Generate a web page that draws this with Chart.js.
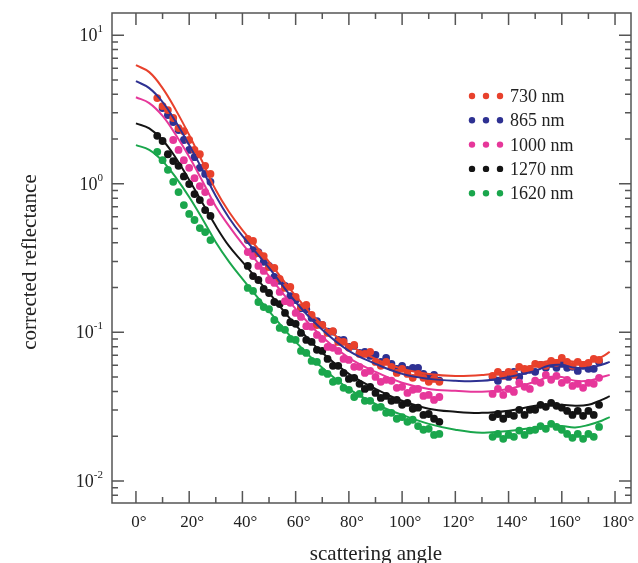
<!DOCTYPE html>
<html>
<head>
<meta charset="utf-8">
<script src="https://cdn.jsdelivr.net/npm/chart.js"></script>
<style>
  html, body { margin: 0; padding: 0; background: #fff; }
  #wrap { width: 638px; height: 563px; }
</style>
</head>
<body>
<div id="wrap"><canvas id="reflChart" width="638" height="563"></canvas></div>
<script type="text/javascript">

// series names and colours
const wavelengths = ['730 nm', '865 nm', '1000 nm', '1270 nm', '1620 nm'];
const colors = ['#e8412c', '#2e3192', '#e6379a', '#141414', '#1aa64c'];

// fitted curves (angle in degrees)
const fitAngles = [0, 5, 10, 15, 20, 25, 30, 35, 40, 50, 60, 70, 80, 90, 100, 110, 120, 130, 140, 150, 155, 160, 165, 170, 175, 178];
const fit730  = [6.28, 5.64, 4.40, 3.13, 2.13, 1.40, 0.907, 0.645, 0.488, 0.298, 0.176, 0.112, 0.0823, 0.0662, 0.0568, 0.0525, 0.0509, 0.0517, 0.0542, 0.0604, 0.0642, 0.0652, 0.0633, 0.0633, 0.0684, 0.0738];
const fit865  = [4.90, 4.40, 3.55, 2.60, 1.82, 1.24, 0.826, 0.588, 0.445, 0.271, 0.160, 0.104, 0.0750, 0.0614, 0.0525, 0.0486, 0.0472, 0.0472, 0.0500, 0.0550, 0.0595, 0.0604, 0.0577, 0.0577, 0.0604, 0.0633];
const fit1000 = [3.82, 3.49, 2.86, 2.13, 1.52, 1.04, 0.703, 0.519, 0.394, 0.239, 0.144, 0.0931, 0.0673, 0.0542, 0.0458, 0.0416, 0.0404, 0.0398, 0.0416, 0.0465, 0.0500, 0.0500, 0.0472, 0.0472, 0.0500, 0.0517];
const fit1270 = [2.55, 2.36, 1.97, 1.49, 1.06, 0.742, 0.519, 0.380, 0.298, 0.184, 0.112, 0.0728, 0.0525, 0.0416, 0.0346, 0.0306, 0.0292, 0.0287, 0.0297, 0.0320, 0.0325, 0.0325, 0.0320, 0.0325, 0.0351, 0.0372];
const fit1620 = [1.82, 1.69, 1.42, 1.10, 0.814, 0.579, 0.404, 0.298, 0.229, 0.139, 0.0862, 0.0577, 0.0416, 0.0330, 0.0278, 0.0242, 0.0221, 0.0211, 0.0217, 0.0229, 0.0234, 0.0234, 0.0229, 0.0238, 0.0254, 0.0269];

// measured points, three angular ranges
const pointAngles = [
  8, 10, 12, 14, 16, 18, 20, 22, 24, 26, 28,
  42, 44, 46, 48, 50, 52, 54, 56, 58, 60, 62, 64, 66, 68, 70, 72, 74, 76, 78,
  80, 82, 84, 86, 88, 90, 92, 94, 96, 98, 100, 102, 104, 106, 108, 110, 112, 114,
  134, 136, 138, 140, 142, 144, 146, 148, 150, 152, 154, 156, 158, 160, 162, 164, 166, 168, 170, 172, 174
];
const pts730 = [
  3.77, 3.33, 3.13, 2.77, 2.37, 2.26, 1.97, 1.69, 1.58, 1.32, 1.165,
  0.425, 0.412, 0.341, 0.326, 0.275, 0.271, 0.229, 0.199, 0.202, 0.173, 0.148, 0.153, 0.131, 0.112, 0.112, 0.0990, 0.102, 0.0862, 0.0862,
  0.0786, 0.0823, 0.0716, 0.0716, 0.0739, 0.0632, 0.0595, 0.0632, 0.0586, 0.0533, 0.0568, 0.0525, 0.0494, 0.0525, 0.0494, 0.0464, 0.0486, 0.0464,
  0.0509, 0.0542, 0.0509, 0.0542, 0.0517, 0.0586, 0.0568, 0.0568, 0.0613, 0.0604, 0.0595, 0.0642, 0.0623, 0.0673, 0.0632, 0.0595, 0.0632, 0.0604, 0.0623, 0.0662, 0.0652
];
const pts865 = [
  null, 3.23, 2.90, 2.60, 2.30, 1.97, 1.69, 1.51, 1.28, 1.165, 1.03,
  0.418, 0.358, 0.347, 0.298, 0.280, 0.236, 0.222, 0.205, 0.175, 0.165, 0.145, 0.143, 0.125, 0.119, 0.112, 0.101, 0.101, 0.0889, 0.0889,
  0.0798, 0.0810, 0.0727, 0.0739, 0.0694, 0.0705, 0.0632, 0.0673, 0.0613, 0.0568, 0.0595, 0.0559, 0.0577, 0.0577, 0.0525, 0.0501, 0.0517, 0.0472,
  0.0501, 0.0472, 0.0517, 0.0501, 0.0542, 0.0501, 0.0550, 0.0559, 0.0542, 0.0604, 0.0577, 0.0613, 0.0577, 0.0613, 0.0577, 0.0586, 0.0550, 0.0595, 0.0568, 0.0568, 0.0632
];
const pts1000 = [
  null, null, null, 1.97, 1.69, 1.44, 1.28, 1.09, 0.965, 0.879, 0.753,
  0.347, 0.326, 0.280, 0.259, 0.225, 0.215, 0.187, 0.162, 0.158, 0.135, 0.127, 0.110, 0.109, 0.0960, 0.0903, 0.0798, 0.0786, 0.0750, 0.0662,
  0.0652, 0.0586, 0.0586, 0.0533, 0.0550, 0.0501, 0.0464, 0.0479, 0.0472, 0.0423, 0.0430, 0.0391, 0.0410, 0.0416, 0.0373, 0.0379, 0.0351, 0.0367,
  0.0385, 0.0416, 0.0379, 0.0416, 0.0397, 0.0458, 0.0430, 0.0416, 0.0472, 0.0457, 0.0517, 0.0479, 0.0509, 0.0457, 0.0479, 0.0436, 0.0450, 0.0423, 0.0457, 0.0450, 0.0494
];
const pts1270 = [
  2.10, 1.94, 1.58, 1.42, 1.32, 1.12, 0.995, 0.852, 0.777, 0.665, 0.607,
  0.280, 0.239, 0.225, 0.196, 0.184, 0.160, 0.155, 0.135, 0.117, 0.114, 0.0990, 0.0889, 0.0862, 0.0762, 0.0750, 0.0662, 0.0595, 0.0595, 0.0533,
  0.0486, 0.0494, 0.0450, 0.0416, 0.0429, 0.0391, 0.0362, 0.0373, 0.0346, 0.0351, 0.0325, 0.0335, 0.0306, 0.0311, 0.0278, 0.0282, 0.0262, 0.0250,
  0.0269, 0.0282, 0.0262, 0.0282, 0.0274, 0.0301, 0.0278, 0.0301, 0.0301, 0.0325, 0.0315, 0.0335, 0.0320, 0.0311, 0.0296, 0.0278, 0.0296, 0.0274, 0.0296, 0.0278, 0.0325
];
const pts1620 = [
  1.64, 1.44, 1.24, 1.03, 0.879, 0.719, 0.626, 0.570, 0.503, 0.473, 0.418,
  0.199, 0.190, 0.160, 0.148, 0.143, 0.121, 0.107, 0.104, 0.0903, 0.0889, 0.0750, 0.0727, 0.0642, 0.0632, 0.0542, 0.0525, 0.0464, 0.0472, 0.0423,
  0.0410, 0.0367, 0.0385, 0.0346, 0.0346, 0.0311, 0.0315, 0.0287, 0.0287, 0.0262, 0.0269, 0.0250, 0.0258, 0.0234, 0.0221, 0.0224, 0.0204, 0.0207,
  0.0198, 0.0207, 0.0192, 0.0204, 0.0198, 0.0218, 0.0204, 0.0218, 0.0221, 0.0234, 0.0224, 0.0242, 0.0231, 0.0221, 0.0207, 0.0195, 0.0207, 0.0192, 0.0207, 0.0198, 0.0231
];

// axes
const xTickValues = [0, 20, 40, 60, 80, 100, 120, 140, 160, 180];
const xTickLabels = ['0°', '20°', '40°', '60°', '80°', '100°', '120°', '140°', '160°', '180°'];
const yTickValues = [0.01, 0.1, 1, 10];
const yTickExponents = ['-2', '-1', '0', '1'];
const xRange = [-9, 186];
const yRange = [0.0071, 14.1];

const fits = [fit730, fit865, fit1000, fit1270, fit1620];
const points = [pts730, pts865, pts1000, pts1270, pts1620];
const pointOrder = [5, 7, 6, 8, 9];

const serif = "'Liberation Serif', 'Times New Roman', serif";

function pairs(xs, ys) {
  const out = [];
  xs.forEach((x, i) => { if (ys[i] != null) out.push({ x: x, y: ys[i] }); });
  return out;
}

const datasets = [];
wavelengths.forEach((name, i) => {
  datasets.push({
    type: 'line',
    label: name + ' fit',
    data: pairs(fitAngles, fits[i]),
    borderColor: colors[i],
    borderWidth: 2,
    pointRadius: 0,
    tension: 0.4,
    fill: false,
    order: i
  });
  datasets.push({
    type: 'scatter',
    label: name,
    data: pairs(pointAngles, points[i]),
    backgroundColor: colors[i],
    borderWidth: 0,
    pointRadius: 3.9,
    order: pointOrder[i]
  });
});

const framePlugin = {
  id: 'framePlugin',
  beforeDraw(chart) {
    const ctx = chart.ctx;
    ctx.save();
    ctx.fillStyle = '#fff';
    ctx.fillRect(0, 0, chart.width, chart.height);
    ctx.restore();
  },
  afterDraw(chart) {
    const { ctx, chartArea: a, scales: { x, y } } = chart;
    ctx.save();
    ctx.strokeStyle = '#555';
    ctx.lineWidth = 1.5;
    ctx.strokeRect(a.left, a.top, a.right - a.left, a.bottom - a.top);

    // inward ticks
    ctx.beginPath();
    for (let v = 0; v <= 180; v += 10) {
      const px = x.getPixelForValue(v);
      const len = v % 20 === 0 ? 12 : 6;
      ctx.moveTo(px, a.bottom); ctx.lineTo(px, a.bottom - len);
      ctx.moveTo(px, a.top); ctx.lineTo(px, a.top + len);
    }
    for (let e = -3; e <= 1; e++) {
      for (let m = 1; m <= 9; m++) {
        const v = m * Math.pow(10, e);
        if (v < yRange[0] || v > yRange[1]) continue;
        const py = y.getPixelForValue(v);
        const len = m === 1 ? 12 : 6;
        ctx.moveTo(a.left, py); ctx.lineTo(a.left + len, py);
        ctx.moveTo(a.right, py); ctx.lineTo(a.right - len, py);
      }
    }
    ctx.stroke();

    // tick labels
    ctx.fillStyle = '#222';
    ctx.font = '17px ' + serif;
    ctx.textAlign = 'center';
    ctx.textBaseline = 'alphabetic';
    xTickValues.forEach((v, i) => {
      ctx.fillText(xTickLabels[i], x.getPixelForValue(v) + 3, a.bottom + 24);
    });
    yTickValues.forEach((v, i) => {
      const py = y.getPixelForValue(v);
      ctx.font = '11px ' + serif;
      const ew = ctx.measureText(yTickExponents[i]).width;
      ctx.textAlign = 'left';
      ctx.fillText(yTickExponents[i], 103 - ew, py - 3);
      ctx.font = '18px ' + serif;
      ctx.textAlign = 'right';
      ctx.fillText('10', 103 - ew, py + 6);
    });

    // axis titles
    ctx.font = '21px ' + serif;
    ctx.textAlign = 'center';
    ctx.fillText('scattering angle', 376, 560);
    ctx.save();
    ctx.translate(36, 262);
    ctx.rotate(-Math.PI / 2);
    ctx.fillText('corrected reflectance', 0, 0);
    ctx.restore();

    // legend
    wavelengths.forEach((name, i) => {
      const cy = 96 + i * 24.3;
      ctx.fillStyle = colors[i];
      [472, 486, 500].forEach(cx => {
        ctx.beginPath();
        ctx.arc(cx, cy, 3.2, 0, Math.PI * 2);
        ctx.fill();
      });
      ctx.fillStyle = '#222';
      ctx.font = '18px ' + serif;
      ctx.textAlign = 'left';
      ctx.fillText(name, 510, cy + 6);
    });
    ctx.restore();
  }
};

const ctx = document.getElementById('reflChart').getContext('2d');
const reflChart = new Chart(ctx, {
  type: 'scatter',
  data: { datasets: datasets },
  options: {
    responsive: false,
    animation: false,
    layout: { padding: { left: 112, right: 7, top: 13, bottom: 60 } },
    plugins: { legend: { display: false }, tooltip: { enabled: false } },
    scales: {
      x: { type: 'linear', min: xRange[0], max: xRange[1], display: false },
      y: { type: 'logarithmic', min: yRange[0], max: yRange[1], display: false }
    }
  },
  plugins: [framePlugin]
});
</script>
</body>
</html>
